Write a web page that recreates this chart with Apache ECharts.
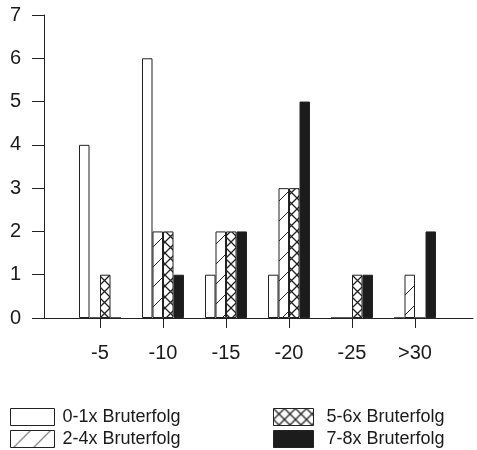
<!DOCTYPE html>
<html><head><meta charset="utf-8">
<script src="https://cdn.jsdelivr.net/npm/echarts@6/dist/echarts.min.js"></script>
<style>html,body{margin:0;padding:0;background:#fff}#c{width:477px;height:450px}</style>
</head><body><div id="c"></div>
<script>
const categories = ['-5', '-10', '-15', '-20', '-25', '>30'];
const seriesNames = ['0-1x Bruterfolg', '2-4x Bruterfolg', '5-6x Bruterfolg', '7-8x Bruterfolg'];
const s01 = [4, 6, 1, 1, 0, 0];
const s24 = [0, 2, 2, 3, 0, 1];
const s56 = [1, 2, 2, 3, 1, 0];
const s78 = [0, 1, 2, 5, 1, 2];
const yTicks = [0, 7, 1];

function hatch() {
  const s = 20;
  const c = document.createElement('canvas'); c.width = s; c.height = s;
  const g = c.getContext('2d'); g.fillStyle = '#fff'; g.fillRect(0, 0, s, s);
  g.strokeStyle = '#222'; g.lineWidth = 1;
  g.beginPath(); g.moveTo(-2, s + 2); g.lineTo(s + 2, -2); g.stroke();
  return c;
}
function cross() {
  const s = 11;
  const c = document.createElement('canvas'); c.width = s; c.height = s;
  const g = c.getContext('2d'); g.fillStyle = '#fff'; g.fillRect(0, 0, s, s);
  g.strokeStyle = '#222'; g.lineWidth = 1.3;
  g.beginPath(); g.moveTo(0, 0); g.lineTo(s, s); g.moveTo(s, 0); g.lineTo(0, s); g.stroke();
  return c;
}
const fills = ['#ffffff', {image: hatch(), repeat: 'repeat'}, {image: cross(), repeat: 'repeat'}, '#1c1c1c'];
const datas = [s01, s24, s56, s78];

const chart = echarts.init(document.getElementById('c'), null, {renderer: 'canvas'});
const font = 'Liberation Sans, Arial, sans-serif';
const legendCommon = {
  top: 408, orient: 'vertical', padding: 0, itemHeight: 17, itemGap: 4, icon: 'rect', itemWidth: 44,
  itemStyle: {borderColor: '#222', borderWidth: 1}
};
chart.setOption({
  backgroundColor: '#fff',
  animation: false,
  grid: [
    {left: 44, right: 4, top: 15, height: 303},
    {left: 68.5, right: 30.5, top: 15, height: 303}
  ],
  xAxis: [
    {gridIndex: 0, type: 'value', min: 0, max: 1, axisLine: {show: true, lineStyle: {color: '#222', width: 1}},
      axisTick: {show: false}, axisLabel: {show: false}, splitLine: {show: false}},
    {gridIndex: 1, type: 'category', data: categories, boundaryGap: true,
      axisLine: {show: false}, axisTick: {show: true, alignWithLabel: true, length: 10, lineStyle: {color: '#222'}},
      axisLabel: {fontSize: 20, color: '#1a1a1a', fontFamily: font, margin: 25}}
  ],
  yAxis: [
    {gridIndex: 0, type: 'value', min: yTicks[0], max: yTicks[1], interval: yTicks[2],
      axisLine: {show: true, lineStyle: {color: '#222', width: 1}},
      axisTick: {show: true, length: 12, lineStyle: {color: '#222'}},
      axisLabel: {fontSize: 20, color: '#1a1a1a', fontFamily: font, margin: 23},
      splitLine: {show: false}},
    {gridIndex: 1, type: 'value', min: yTicks[0], max: yTicks[1], interval: yTicks[2], show: false}
  ],
  legend: [
    Object.assign({}, legendCommon, {left: 10, data: [seriesNames[0], seriesNames[1]],
      textStyle: {fontSize: 18, color: '#1a1a1a', fontFamily: font, padding: [0, 0, 0, 3]}}),
    Object.assign({}, legendCommon, {left: 273, itemWidth: 40, data: [seriesNames[2], seriesNames[3]],
      textStyle: {fontSize: 18, color: '#1a1a1a', fontFamily: font, padding: [0, 0, 0, 8]}})
  ],
  series: seriesNames.map((n, i) => ({
    name: n, type: 'bar', xAxisIndex: 1, yAxisIndex: 1, data: datas[i],
    barWidth: 10.5, barGap: '0%',
    itemStyle: {color: fills[i], borderColor: '#222', borderWidth: 1}
  }))
});
</script></body></html>
